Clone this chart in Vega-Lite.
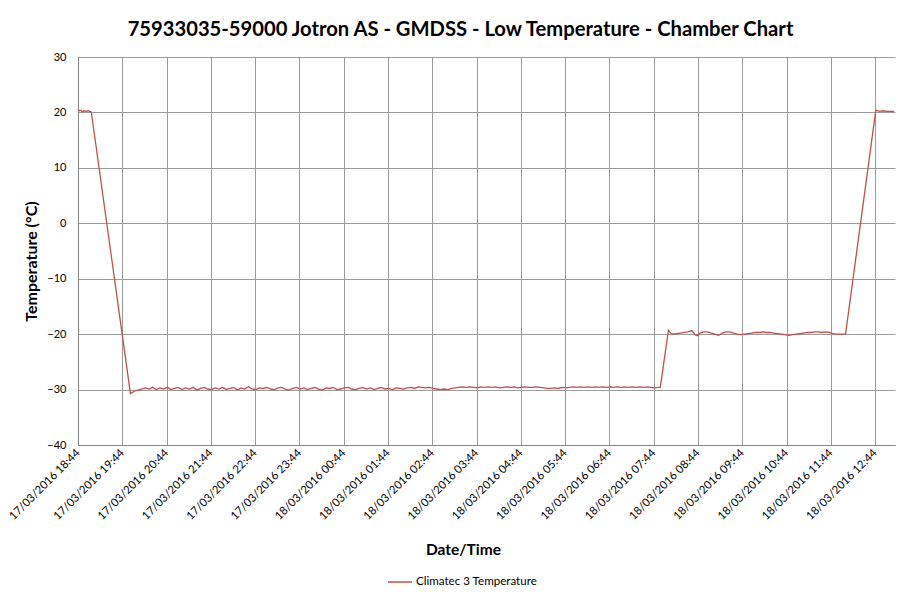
{
  "$schema": "https://vega.github.io/schema/vega-lite/v6.json",
  "width": 817,
  "height": 388,
  "autosize": "none",
  "padding": {"left": 78, "top": 57, "right": 7, "bottom": 150},
  "background": "white",
  "title": {
    "text": "75933035-59000 Jotron AS - GMDSS - Low Temperature - Chamber Chart",
    "font": "Lato",
    "fontSize": 20.2,
    "fontWeight": "bold",
    "color": "#000000",
    "anchor": "middle",
    "dx": -26,
    "offset": 11
  },
  "config": {
    "view": {"stroke": null},
    "font": "Lato"
  },
  "data": {
    "values": [
      {"t": "2016-03-17T18:44", "v": 20.6},
      {"t": "2016-03-17T18:46", "v": 20.3},
      {"t": "2016-03-17T18:48", "v": 20.4},
      {"t": "2016-03-17T18:50", "v": 20.1},
      {"t": "2016-03-17T18:52", "v": 20.3},
      {"t": "2016-03-17T18:55", "v": 20.2},
      {"t": "2016-03-17T18:58", "v": 20.3},
      {"t": "2016-03-17T19:00", "v": 20.2},
      {"t": "2016-03-17T19:02", "v": 20.1},
      {"t": "2016-03-17T19:55", "v": -30.7},
      {"t": "2016-03-17T19:58", "v": -30.5},
      {"t": "2016-03-17T20:00", "v": -30.3},
      {"t": "2016-03-17T20:05", "v": -30.1},
      {"t": "2016-03-17T20:10", "v": -29.9},
      {"t": "2016-03-17T20:15", "v": -29.7},
      {"t": "2016-03-17T20:20", "v": -29.9},
      {"t": "2016-03-17T20:25", "v": -29.6},
      {"t": "2016-03-17T20:30", "v": -30.0},
      {"t": "2016-03-17T20:35", "v": -29.7},
      {"t": "2016-03-17T20:40", "v": -29.9},
      {"t": "2016-03-17T20:45", "v": -29.6},
      {"t": "2016-03-17T20:50", "v": -30.0},
      {"t": "2016-03-17T20:55", "v": -29.8},
      {"t": "2016-03-17T21:00", "v": -29.6},
      {"t": "2016-03-17T21:05", "v": -30.0},
      {"t": "2016-03-17T21:10", "v": -29.7},
      {"t": "2016-03-17T21:15", "v": -29.9},
      {"t": "2016-03-17T21:20", "v": -29.6},
      {"t": "2016-03-17T21:25", "v": -30.1},
      {"t": "2016-03-17T21:30", "v": -29.8},
      {"t": "2016-03-17T21:35", "v": -29.6},
      {"t": "2016-03-17T21:40", "v": -29.9},
      {"t": "2016-03-17T21:45", "v": -30.0},
      {"t": "2016-03-17T21:50", "v": -29.7},
      {"t": "2016-03-17T21:55", "v": -29.9},
      {"t": "2016-03-17T22:00", "v": -29.6},
      {"t": "2016-03-17T22:05", "v": -30.0},
      {"t": "2016-03-17T22:10", "v": -29.8},
      {"t": "2016-03-17T22:15", "v": -29.6},
      {"t": "2016-03-17T22:20", "v": -30.1},
      {"t": "2016-03-17T22:25", "v": -29.7},
      {"t": "2016-03-17T22:30", "v": -29.9},
      {"t": "2016-03-17T22:35", "v": -29.5},
      {"t": "2016-03-17T22:40", "v": -29.9},
      {"t": "2016-03-17T22:45", "v": -30.0},
      {"t": "2016-03-17T22:50", "v": -29.7},
      {"t": "2016-03-17T22:55", "v": -29.8},
      {"t": "2016-03-17T23:00", "v": -29.6},
      {"t": "2016-03-17T23:05", "v": -29.9},
      {"t": "2016-03-17T23:10", "v": -30.0},
      {"t": "2016-03-17T23:15", "v": -29.7},
      {"t": "2016-03-17T23:20", "v": -29.6},
      {"t": "2016-03-17T23:25", "v": -29.9},
      {"t": "2016-03-17T23:30", "v": -30.1},
      {"t": "2016-03-17T23:35", "v": -29.8},
      {"t": "2016-03-17T23:40", "v": -29.6},
      {"t": "2016-03-17T23:45", "v": -29.9},
      {"t": "2016-03-17T23:50", "v": -29.7},
      {"t": "2016-03-17T23:55", "v": -30.0},
      {"t": "2016-03-18T00:00", "v": -29.8},
      {"t": "2016-03-18T00:05", "v": -29.6},
      {"t": "2016-03-18T00:10", "v": -29.9},
      {"t": "2016-03-18T00:15", "v": -30.1},
      {"t": "2016-03-18T00:20", "v": -29.7},
      {"t": "2016-03-18T00:25", "v": -29.8},
      {"t": "2016-03-18T00:30", "v": -29.6},
      {"t": "2016-03-18T00:35", "v": -30.0},
      {"t": "2016-03-18T00:40", "v": -29.9},
      {"t": "2016-03-18T00:45", "v": -29.7},
      {"t": "2016-03-18T00:50", "v": -29.6},
      {"t": "2016-03-18T00:55", "v": -29.9},
      {"t": "2016-03-18T01:00", "v": -30.0},
      {"t": "2016-03-18T01:05", "v": -29.8},
      {"t": "2016-03-18T01:10", "v": -29.6},
      {"t": "2016-03-18T01:15", "v": -29.9},
      {"t": "2016-03-18T01:20", "v": -29.7},
      {"t": "2016-03-18T01:25", "v": -30.0},
      {"t": "2016-03-18T01:30", "v": -29.8},
      {"t": "2016-03-18T01:35", "v": -29.6},
      {"t": "2016-03-18T01:40", "v": -29.9},
      {"t": "2016-03-18T01:45", "v": -29.8},
      {"t": "2016-03-18T01:50", "v": -30.0},
      {"t": "2016-03-18T01:55", "v": -29.7},
      {"t": "2016-03-18T02:00", "v": -29.8},
      {"t": "2016-03-18T02:05", "v": -29.9},
      {"t": "2016-03-18T02:10", "v": -29.7},
      {"t": "2016-03-18T02:15", "v": -29.6},
      {"t": "2016-03-18T02:20", "v": -29.8},
      {"t": "2016-03-18T02:25", "v": -29.5},
      {"t": "2016-03-18T02:30", "v": -29.6},
      {"t": "2016-03-18T02:35", "v": -29.7},
      {"t": "2016-03-18T02:40", "v": -29.6},
      {"t": "2016-03-18T02:45", "v": -29.8},
      {"t": "2016-03-18T02:50", "v": -29.9},
      {"t": "2016-03-18T02:55", "v": -30.0},
      {"t": "2016-03-18T03:00", "v": -29.9},
      {"t": "2016-03-18T03:05", "v": -30.0},
      {"t": "2016-03-18T03:10", "v": -29.8},
      {"t": "2016-03-18T03:15", "v": -29.7},
      {"t": "2016-03-18T03:20", "v": -29.6},
      {"t": "2016-03-18T03:25", "v": -29.5},
      {"t": "2016-03-18T03:30", "v": -29.6},
      {"t": "2016-03-18T03:35", "v": -29.5},
      {"t": "2016-03-18T03:40", "v": -29.6},
      {"t": "2016-03-18T03:45", "v": -29.7},
      {"t": "2016-03-18T03:50", "v": -29.5},
      {"t": "2016-03-18T03:55", "v": -29.6},
      {"t": "2016-03-18T04:00", "v": -29.5},
      {"t": "2016-03-18T04:05", "v": -29.6},
      {"t": "2016-03-18T04:10", "v": -29.5},
      {"t": "2016-03-18T04:15", "v": -29.7},
      {"t": "2016-03-18T04:20", "v": -29.6},
      {"t": "2016-03-18T04:25", "v": -29.5},
      {"t": "2016-03-18T04:30", "v": -29.6},
      {"t": "2016-03-18T04:35", "v": -29.5},
      {"t": "2016-03-18T04:40", "v": -29.7},
      {"t": "2016-03-18T04:45", "v": -29.6},
      {"t": "2016-03-18T04:50", "v": -29.5},
      {"t": "2016-03-18T04:55", "v": -29.6},
      {"t": "2016-03-18T05:00", "v": -29.6},
      {"t": "2016-03-18T05:05", "v": -29.5},
      {"t": "2016-03-18T05:10", "v": -29.6},
      {"t": "2016-03-18T05:15", "v": -29.7},
      {"t": "2016-03-18T05:20", "v": -29.8},
      {"t": "2016-03-18T05:25", "v": -29.8},
      {"t": "2016-03-18T05:30", "v": -29.7},
      {"t": "2016-03-18T05:35", "v": -29.8},
      {"t": "2016-03-18T05:40", "v": -29.6},
      {"t": "2016-03-18T05:45", "v": -29.7},
      {"t": "2016-03-18T05:50", "v": -29.6},
      {"t": "2016-03-18T05:55", "v": -29.5},
      {"t": "2016-03-18T06:00", "v": -29.6},
      {"t": "2016-03-18T06:05", "v": -29.5},
      {"t": "2016-03-18T06:10", "v": -29.6},
      {"t": "2016-03-18T06:15", "v": -29.5},
      {"t": "2016-03-18T06:20", "v": -29.6},
      {"t": "2016-03-18T06:25", "v": -29.5},
      {"t": "2016-03-18T06:30", "v": -29.6},
      {"t": "2016-03-18T06:35", "v": -29.5},
      {"t": "2016-03-18T06:40", "v": -29.6},
      {"t": "2016-03-18T06:45", "v": -29.5},
      {"t": "2016-03-18T06:50", "v": -29.6},
      {"t": "2016-03-18T06:55", "v": -29.5},
      {"t": "2016-03-18T07:00", "v": -29.6},
      {"t": "2016-03-18T07:05", "v": -29.5},
      {"t": "2016-03-18T07:10", "v": -29.6},
      {"t": "2016-03-18T07:15", "v": -29.5},
      {"t": "2016-03-18T07:20", "v": -29.6},
      {"t": "2016-03-18T07:25", "v": -29.5},
      {"t": "2016-03-18T07:30", "v": -29.6},
      {"t": "2016-03-18T07:35", "v": -29.5},
      {"t": "2016-03-18T07:40", "v": -29.6},
      {"t": "2016-03-18T07:45", "v": -29.7},
      {"t": "2016-03-18T07:50", "v": -29.6},
      {"t": "2016-03-18T07:53", "v": -29.6},
      {"t": "2016-03-18T08:04", "v": -19.3},
      {"t": "2016-03-18T08:07", "v": -19.8},
      {"t": "2016-03-18T08:10", "v": -20.0},
      {"t": "2016-03-18T08:15", "v": -19.9},
      {"t": "2016-03-18T08:20", "v": -19.8},
      {"t": "2016-03-18T08:25", "v": -19.7},
      {"t": "2016-03-18T08:30", "v": -19.6},
      {"t": "2016-03-18T08:36", "v": -19.4},
      {"t": "2016-03-18T08:40", "v": -20.1},
      {"t": "2016-03-18T08:43", "v": -20.3},
      {"t": "2016-03-18T08:47", "v": -19.8},
      {"t": "2016-03-18T08:52", "v": -19.6},
      {"t": "2016-03-18T08:57", "v": -19.6},
      {"t": "2016-03-18T09:02", "v": -19.8},
      {"t": "2016-03-18T09:07", "v": -20.0},
      {"t": "2016-03-18T09:12", "v": -20.2},
      {"t": "2016-03-18T09:17", "v": -19.8},
      {"t": "2016-03-18T09:22", "v": -19.6},
      {"t": "2016-03-18T09:27", "v": -19.6},
      {"t": "2016-03-18T09:32", "v": -19.8},
      {"t": "2016-03-18T09:37", "v": -20.0},
      {"t": "2016-03-18T09:42", "v": -20.1},
      {"t": "2016-03-18T09:47", "v": -20.0},
      {"t": "2016-03-18T09:52", "v": -19.9},
      {"t": "2016-03-18T09:57", "v": -19.8},
      {"t": "2016-03-18T10:02", "v": -19.7},
      {"t": "2016-03-18T10:07", "v": -19.7},
      {"t": "2016-03-18T10:12", "v": -19.6},
      {"t": "2016-03-18T10:17", "v": -19.7},
      {"t": "2016-03-18T10:22", "v": -19.7},
      {"t": "2016-03-18T10:27", "v": -19.8},
      {"t": "2016-03-18T10:32", "v": -19.9},
      {"t": "2016-03-18T10:37", "v": -20.0},
      {"t": "2016-03-18T10:42", "v": -20.1},
      {"t": "2016-03-18T10:47", "v": -20.2},
      {"t": "2016-03-18T10:52", "v": -20.1},
      {"t": "2016-03-18T10:57", "v": -20.0},
      {"t": "2016-03-18T11:02", "v": -19.9},
      {"t": "2016-03-18T11:07", "v": -19.8},
      {"t": "2016-03-18T11:12", "v": -19.7},
      {"t": "2016-03-18T11:17", "v": -19.7},
      {"t": "2016-03-18T11:22", "v": -19.6},
      {"t": "2016-03-18T11:27", "v": -19.6},
      {"t": "2016-03-18T11:32", "v": -19.7},
      {"t": "2016-03-18T11:37", "v": -19.6},
      {"t": "2016-03-18T11:42", "v": -19.7},
      {"t": "2016-03-18T11:47", "v": -19.9},
      {"t": "2016-03-18T11:52", "v": -20.0},
      {"t": "2016-03-18T11:57", "v": -20.0},
      {"t": "2016-03-18T12:04", "v": -20.0},
      {"t": "2016-03-18T12:45", "v": 20.4},
      {"t": "2016-03-18T12:50", "v": 20.2},
      {"t": "2016-03-18T12:55", "v": 20.3},
      {"t": "2016-03-18T13:00", "v": 20.2},
      {"t": "2016-03-18T13:05", "v": 20.2},
      {"t": "2016-03-18T13:10", "v": 20.2}
    ]
  },
  "mark": {"type": "line", "strokeWidth": 1.3, "interpolate": "linear"},
  "encoding": {
    "x": {
      "field": "t",
      "type": "temporal",
      "title": "Date/Time",
      "scale": {
        "domain": [
          {"year": 2016, "month": 3, "date": 17, "hours": 18, "minutes": 44},
          {"year": 2016, "month": 3, "date": 18, "hours": 13, "minutes": 11}
        ],
        "nice": false
      },
      "axis": {
        "values": [
          {"year": 2016, "month": 3, "date": 17, "hours": 18, "minutes": 44},
          {"year": 2016, "month": 3, "date": 17, "hours": 19, "minutes": 44},
          {"year": 2016, "month": 3, "date": 17, "hours": 20, "minutes": 44},
          {"year": 2016, "month": 3, "date": 17, "hours": 21, "minutes": 44},
          {"year": 2016, "month": 3, "date": 17, "hours": 22, "minutes": 44},
          {"year": 2016, "month": 3, "date": 17, "hours": 23, "minutes": 44},
          {"year": 2016, "month": 3, "date": 18, "hours": 0, "minutes": 44},
          {"year": 2016, "month": 3, "date": 18, "hours": 1, "minutes": 44},
          {"year": 2016, "month": 3, "date": 18, "hours": 2, "minutes": 44},
          {"year": 2016, "month": 3, "date": 18, "hours": 3, "minutes": 44},
          {"year": 2016, "month": 3, "date": 18, "hours": 4, "minutes": 44},
          {"year": 2016, "month": 3, "date": 18, "hours": 5, "minutes": 44},
          {"year": 2016, "month": 3, "date": 18, "hours": 6, "minutes": 44},
          {"year": 2016, "month": 3, "date": 18, "hours": 7, "minutes": 44},
          {"year": 2016, "month": 3, "date": 18, "hours": 8, "minutes": 44},
          {"year": 2016, "month": 3, "date": 18, "hours": 9, "minutes": 44},
          {"year": 2016, "month": 3, "date": 18, "hours": 10, "minutes": 44},
          {"year": 2016, "month": 3, "date": 18, "hours": 11, "minutes": 44},
          {"year": 2016, "month": 3, "date": 18, "hours": 12, "minutes": 44}
        ],
        "format": "%d/%m/%Y %H:%M",
        "labelAngle": -45,
        "labelAlign": "right",
        "labelBaseline": "middle",
        "labelFontSize": 11.3,
        "labelColor": "#000000",
        "labelPadding": 6,
        "labelOverlap": false,
        "labelFlush": false,
        "ticks": false,
        "domainColor": "#868686",
        "gridColor": "#9a9a9a",
        "gridOpacity": 1,
        "titleFontSize": 15.5,
        "titleFontWeight": "bold",
        "titleColor": "#000000",
        "titleX": 385,
        "titleY": 104,
        "titleBaseline": "middle"
      }
    },
    "y": {
      "field": "v",
      "type": "quantitative",
      "title": "Temperature (°C)",
      "scale": {"domain": [-40, 30], "nice": false},
      "axis": {
        "values": [-40, -30, -20, -10, 0, 10, 20, 30],
        "labelFontSize": 11,
        "labelColor": "#000000",
        "labelPadding": 12,
        "ticks": false,
        "domainColor": "#868686",
        "gridColor": "#9a9a9a",
        "gridOpacity": 1,
        "titleFontSize": 16,
        "titleFontWeight": "bold",
        "titleColor": "#000000",
        "titlePadding": 7,
        "titleY": 204
      }
    },
    "color": {
      "datum": "Climatec 3 Temperature",
      "type": "nominal",
      "scale": {"range": ["#c0504d"]},
      "legend": {
        "title": null,
        "orient": "none",
        "legendX": 309,
        "legendY": 512,
        "symbolType": "stroke",
        "symbolSize": 576,
        "symbolStrokeWidth": 1.5,
        "labelFontSize": 11.6,
        "labelColor": "#000000",
        "labelOffset": 3
      }
    }
  }
}
